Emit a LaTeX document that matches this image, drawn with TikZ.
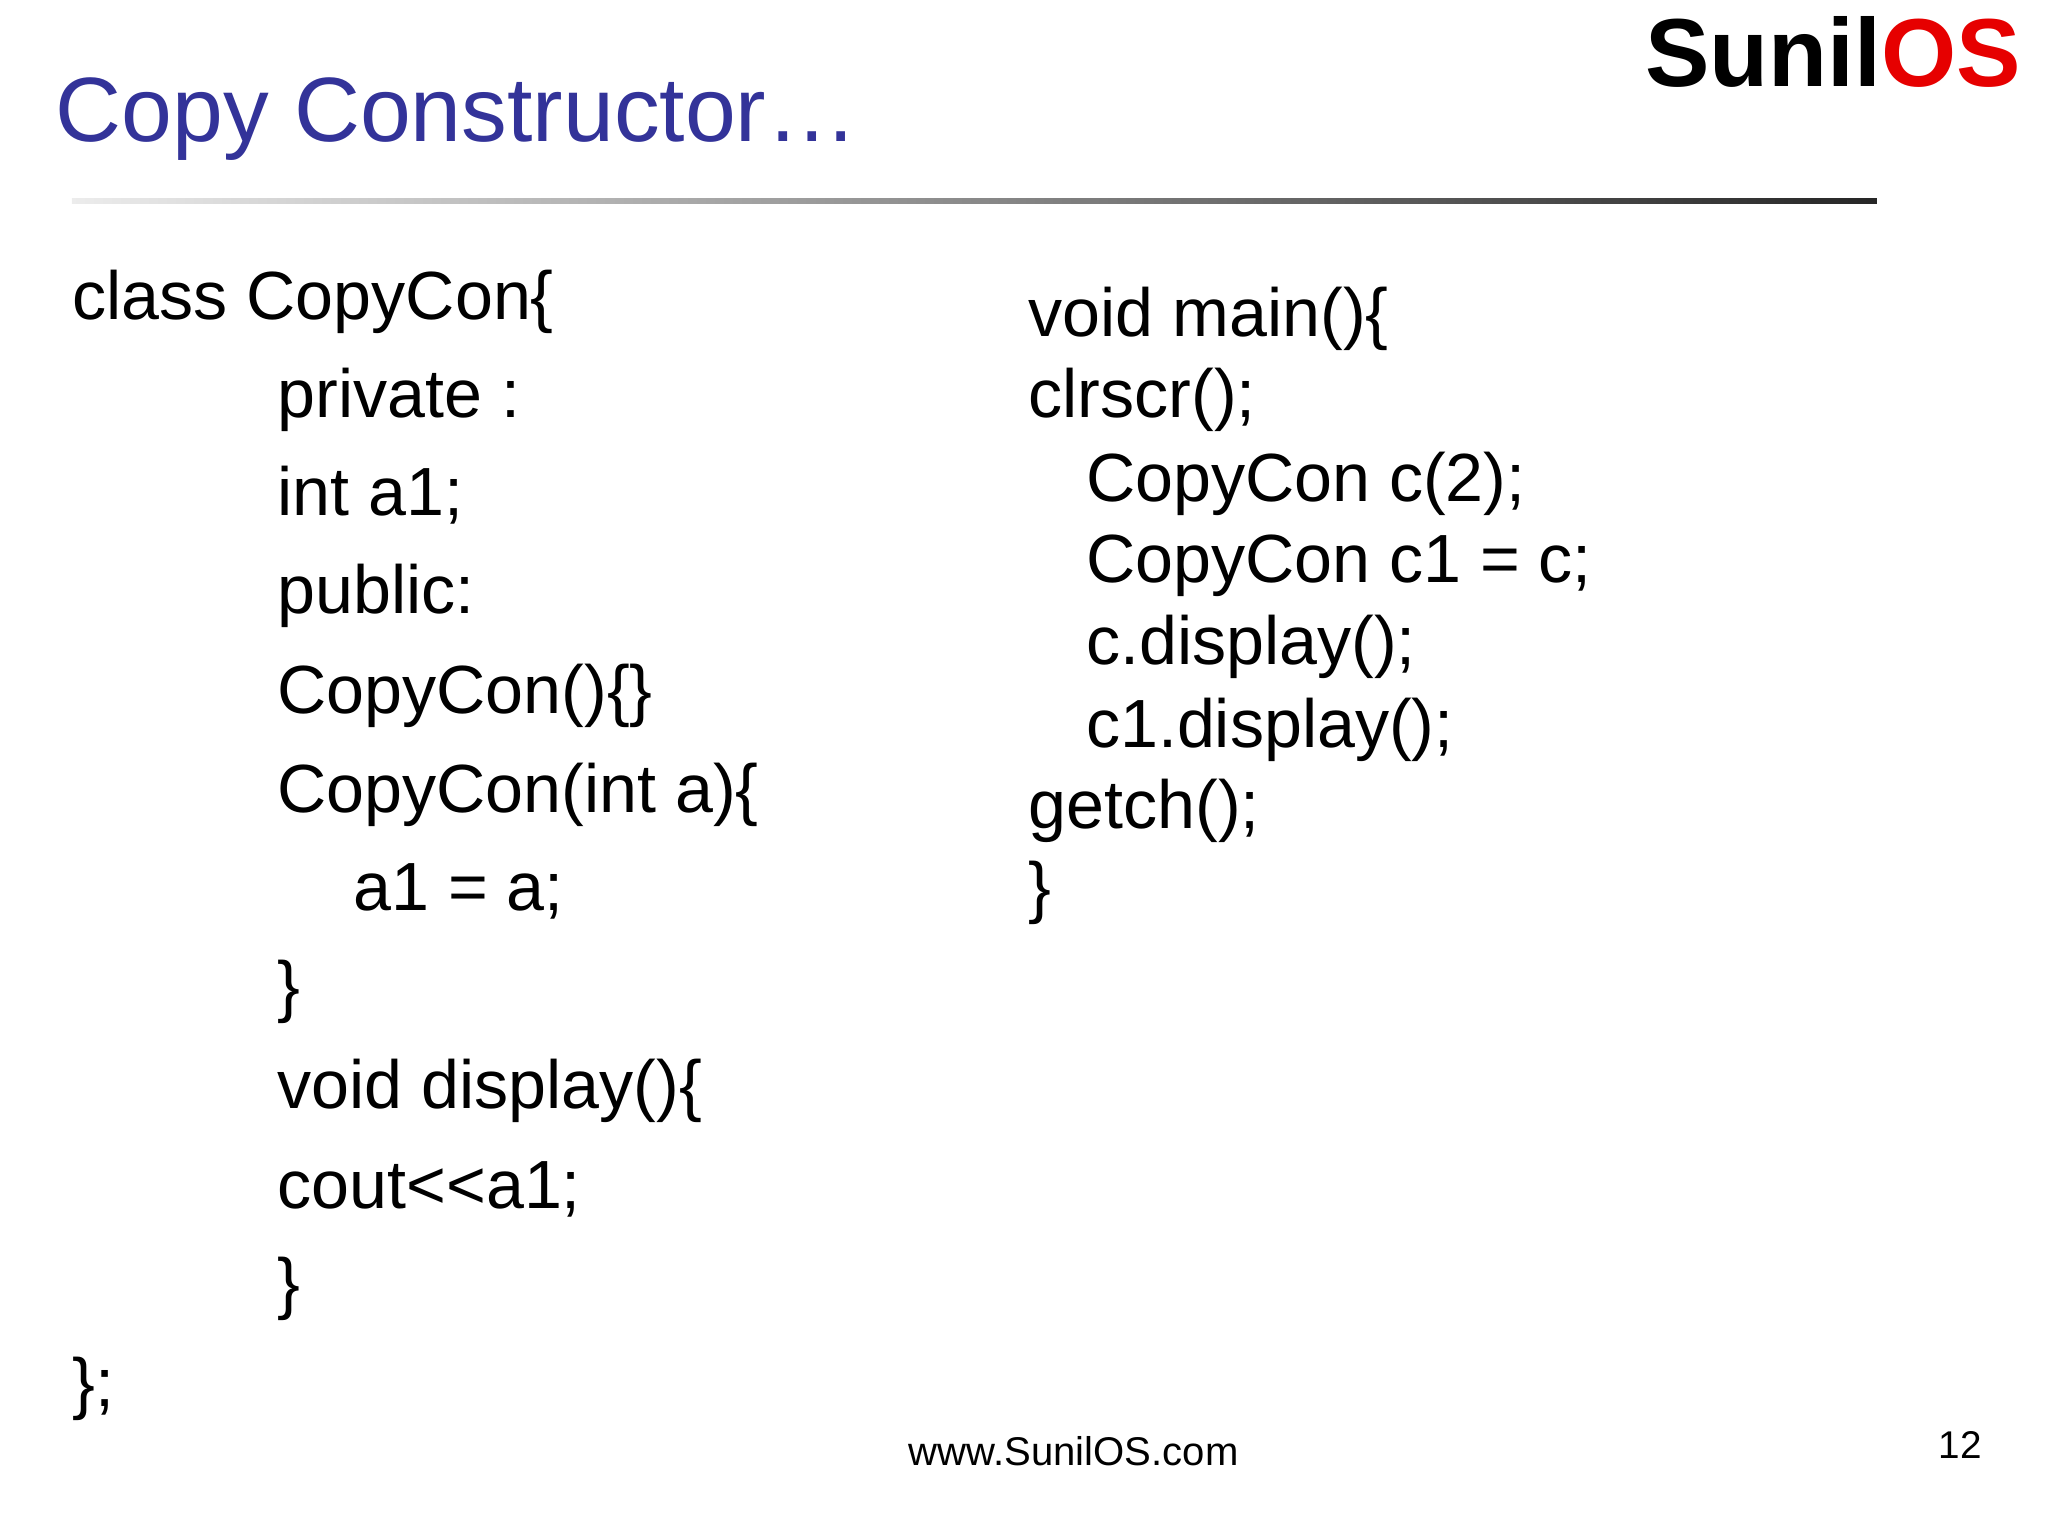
\documentclass[tikz,border=0pt]{standalone}
\usepackage{fontspec}
\setmainfont{Liberation Sans}
\definecolor{titleblue}{RGB}{51,51,153}
\definecolor{logored}{RGB}{230,0,0}
\begin{document}
\begin{tikzpicture}[x=0.01306cm,y=-0.01306cm,
  code/.style={anchor=base west,inner sep=0pt,font=\fontsize{19.4}{23}\selectfont}]
\useasboundingbox (0,0) rectangle (1568,1176);
\node[anchor=base west,inner sep=0pt,text=titleblue,font=\fontsize{26}{30}\selectfont] (title) at (42,108) {Copy Constructor…};
\node[anchor=base east,inner sep=0pt,font=\fontsize{27.5}{30}\selectfont\bfseries] (logo) at (1548,66) {Sunil\textcolor{logored}{OS}};
\shade[left color=gray!15,right color=black!85] (55,152) rectangle (1437,156);
\node[code] (l1) at (55,245) {class CopyCon\{};
\node[code] (l2) at (212,320) {private :};
\node[code] (l3) at (212,395) {int a1;};
\node[code] (l4) at (212,470) {public:};
\node[code] (l5) at (212,546) {CopyCon()\{\}};
\node[code] (l6) at (212,622) {CopyCon(int a)\{};
\node[code] (l7) at (270,697) {a1 = a;};
\node[code] (l8) at (212,773) {\}};
\node[code] (l9) at (212,849) {void display()\{};
\node[code] (l10) at (212,925) {cout<{}<a1;};
\node[code] (l11) at (212,1000) {\}};
\node[code] (l12) at (55,1077) {\};};
\node[code] (r1) at (787,258) {void main()\{};
\node[code] (r2) at (787,320) {clrscr();};
\node[code] (r3) at (831,384) {CopyCon c(2);};
\node[code] (r4) at (831,446) {CopyCon c1 = c;};
\node[code] (r5) at (831,509) {c.display();};
\node[code] (r6) at (831,572) {c1.display();};
\node[code] (r7) at (787,634) {getch();};
\node[code] (r8) at (787,697) {\}};
\node[anchor=base,inner sep=0pt,font=\fontsize{11.4}{13}\selectfont] (foot) at (822,1122) {www.SunilOS.com};
\node[anchor=base east,inner sep=0pt,font=\fontsize{11}{13}\selectfont] (num) at (1518,1117) {12};
\end{tikzpicture}
\end{document}
